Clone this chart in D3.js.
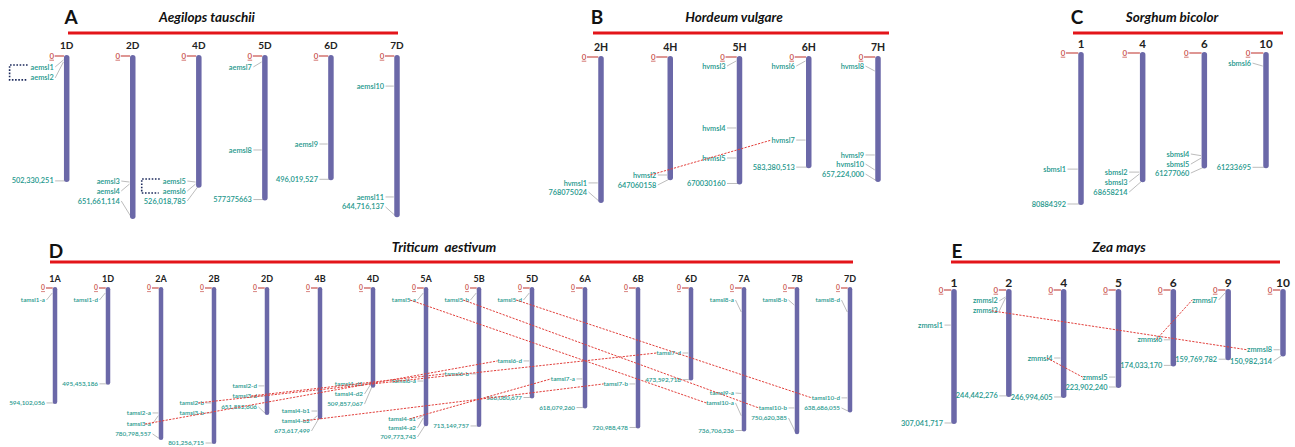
<!DOCTYPE html>
<html><head><meta charset="utf-8">
<script src="https://cdn.jsdelivr.net/npm/d3@7"></script>
<style>
body{margin:0;background:#fff}
svg{display:block}
text{font-family:Lato,"Liberation Sans",Arial,sans-serif}
</style>
</head><body>
<svg id="chart" width="1295" height="447"></svg>
<script>
// ---------------- DATA ----------------
// Panel A: Aegilops tauschii
const aChroms = ["1D","2D","4D","5D","6D","7D"];
const aLengths = [502330251, 651661114, 526018785, 577375663, 496019527, 644716137];
const aLengthLabels = ["502,330,251","651,661,114","526,018,785","577375663","496,019,527","644,716,137"];
const aLengthLabelPos = [502.33, 583, 583, 577.38, 496.02, 607];
// [gene, chromosome, position (Mb), label position (Mb)]
const aGenes = [
  ["aemsl1","1D",16,44],["aemsl2","1D",24,88],
  ["aemsl3","2D",507,503],["aemsl4","2D",515,543],
  ["aemsl5","4D",507,503],["aemsl6","4D",515,543],
  ["aemsl7","5D",24,44],["aemsl8","5D",378,378],
  ["aemsl9","6D",354,354],
  ["aemsl10","7D",121,121],["aemsl11","7D",567,567]
];
const aGroups = [["aemsl1","aemsl2"],["aemsl5","aemsl6"]];
const aLinks = [];

// Panel B: Hordeum vulgare
const bChroms = ["2H","4H","5H","6H","7H"];
const bLengths = [768075024, 647060158, 670030160, 583380513, 657224000];
const bLengthLabels = ["768075024","647060158","670030160","583,380,513","657,224,000"];
const bLengthLabelPos = [715, 678, 670.03, 583.38, 620];
const bGenes = [
  ["hvmsl1","2H",667,667],
  ["hvmsl2","4H",625,625],
  ["hvmsl3","5H",21,48],["hvmsl4","5H",376,376],["hvmsl5","5H",535,535],
  ["hvmsl6","6H",21,48],["hvmsl7","6H",440,440],
  ["hvmsl8","7H",74,48],["hvmsl9","7H",519,519],["hvmsl10","7H",598,567]
];
const bGroups = [];
const bLinks = [["hvmsl2","hvmsl7"]];

// Panel C: Sorghum bicolor
const cChroms = ["1","4","6","10"];
const cLengths = [80884392, 68658214, 61277060, 61233695];
const cLengthLabels = ["80884392","68658214","61277060","61233695"];
const cLengthLabelPos = [80.88, 74.5, 64.3, 61.23];
const cGenes = [
  ["sbmsl1","1",62.2,62.2],
  ["sbmsl2","4",63.8,63.8],["sbmsl3","4",64.8,69.1],
  ["sbmsl4","6",55,54.1],["sbmsl5","6",56.3,59.5],
  ["sbmsl6","10",7,5.4]
];
const cGroups = [];
const cLinks = [];

// Panel D: Triticum aestivum
const dChroms = ["1A","1D","2A","2B","2D","4B","4D","5A","5B","5D","6A","6B","6D","7A","7B","7D"];
const dLengths = [594102056, 495453186, 780798557, 801256715, 651852606, 673617499, 509857067, 709773743,
                  713149757, 566080677, 618079260, 720988478, 473592718, 736706236, 750620385, 638686055];
const dLengthLabels = ["594,102,056","495,453,186","780,798,557","801,256,715","651,852,606","673,617,499",
                       "509,857,067","709,773,743","713,149,757","566,080,677","618,079,260","720,988,478",
                       "473,592,718","736,706,236","750,620,385","638,686,055"];
const dLengthLabelPos = [594.1, 495.45, 754, 801.26, 615, 739, 600, 770, 713.15, 566.08, 618.08, 720.99, 473.59, 736.71, 672, 620];
const dGenes = [
  ["tamsl1-a","1A",26,62],
  ["tamsl1-d","1D",26,62],
  ["tamsl2-a","2A",646,646],["tamsl3-a","2A",660,703],
  ["tamsl2-b","2B",594,594],["tamsl3-b","2B",646,646],
  ["tamsl2-d","2D",506,506],["tamsl3-d","2D",558,558],
  ["tamsl4-b1","4B",636,636],["tamsl4-b2","4B",660,687],
  ["tamsl4-d1","4D",490,496],["tamsl4-d2","4D",501,548],
  ["tamsl5-a","5A",26,62],["tamsl6-a","5A",481,481],["tamsl4-a1","5A",660,677],["tamsl4-a2","5A",672,723],
  ["tamsl5-b","5B",26,62],["tamsl6-b","5B",444,444],
  ["tamsl5-d","5D",26,62],["tamsl6-d","5D",377,377],
  ["tamsl7-a","6A",470,470],
  ["tamsl7-b","6B",496,496],
  ["tamsl7-d","6D",336,336],
  ["tamsl8-a","7A",124,62],["tamsl9-a","7A",545,543],["tamsl10-a","7A",660,594],
  ["tamsl8-b","7B",88,62],["tamsl10-b","7B",620,620],
  ["tamsl8-d","7D",124,62],["tamsl10-d","7D",568,568]
];
const dGroups = [];
const dLinks = [["tamsl3-a","tamsl6-d"],["tamsl2-b","tamsl7-d"],["tamsl3-d","tamsl6-b"],["tamsl4-b2","tamsl7-b"],
                ["tamsl4-a1","tamsl7-a"],["tamsl5-a","tamsl10-a"],["tamsl5-b","tamsl10-b"],["tamsl5-d","tamsl10-d"]];

// Panel E: Zea mays
const eChroms = ["1","2","4","5","6","9","10"];
const eLengths = [307041717, 244442276, 246994605, 223902240, 174033170, 159769782, 150982314];
const eLengthLabels = ["307,041,717","244,442,276","246,994,605","223,902,240","174,033,170","159,769,782","150,982,314"];
const eLengthLabelPos = [307.04, 244.44, 246.99, 223.9, 174.03, 159.77, 164];
const eGenes = [
  ["zmmsl1","1",81,81],
  ["zmmsl2","2",16,25],["zmmsl3","2",18,48],
  ["zmmsl4","4",157,157],
  ["zmmsl5","5",201,201],
  ["zmmsl6","6",115,115],
  ["zmmsl7","9",7,23],
  ["zmmsl8","10",138,138]
];
const eGroups = [];
const eLinks = [["zmmsl3","zmmsl8"],["zmmsl7","zmmsl6"],["zmmsl4","zmmsl5"]];

// ---------------- STYLE / LAYOUT ----------------
const TEAL = "#23978c", GREY = "#ababab", CHROM = "#6b68a8", RED = "#e3151a", ZERO = "#c8504a", LINK = "#e2403c";
const svg = d3.select("#chart");

function drawPanel(P, L) {
  const g = svg.append("g");
  const x = d3.scalePoint().domain(P.chroms).range(L.xRange);
  const y = d3.scaleLinear().domain([0, d3.max(P.lengths) / 1e6]).range(L.yRange);
  const top = y(0);

  // header
  g.append("text").attr("x", L.letterX).attr("y", L.letterY).attr("text-anchor", "middle")
    .attr("font-size", 19).attr("font-weight", "bold").attr("fill", "#111").text(P.letter);
  g.append("text").attr("x", L.titleX).attr("y", L.titleY).attr("text-anchor", "middle")
    .attr("font-size", 13.5).attr("font-weight", "bold").attr("font-style", "italic")
    .attr("fill", "#111").style("white-space", "pre").text(P.title);
  g.append("line").attr("x1", L.bar[0]).attr("x2", L.bar[1]).attr("y1", L.barY).attr("y2", L.barY)
    .attr("stroke", RED).attr("stroke-width", 3);

  const conn = g.append("g").attr("stroke", GREY).attr("stroke-width", 0.8).attr("fill", "none");
  const chromG = g.append("g");
  const textG = g.append("g").attr("font-weight", 600);
  const linkG = g.append("g");

  P.chroms.forEach((c, i) => {
    const cx = x(c), bot = y(P.lengths[i] / 1e6);
    chromG.append("rect").attr("x", cx - L.w / 2).attr("y", top - 1).attr("width", L.w)
      .attr("height", bot - top + 2).attr("rx", L.w / 2).attr("fill", CHROM);
    textG.append("text").attr("x", cx).attr("y", top - L.nameGap).attr("text-anchor", "middle")
      .attr("font-weight", "bold").attr("font-size", L.nameSize).attr("fill", "#222").text(c);
    textG.append("text").attr("x", cx + L.zeroDx).attr("y", top).attr("dy", "0.35em")
      .attr("text-anchor", "middle").attr("font-size", L.labelSize + 0.5).attr("fill", ZERO)
      .attr("text-decoration", "underline").text("0");
    g.append("line").attr("x1", cx + L.zeroDx + 3).attr("x2", cx - L.w / 2).attr("y1", top).attr("y2", top)
      .attr("stroke", ZERO).attr("stroke-width", 1.2);
    const ly = y(P.lengthLabelPos[i]);
    textG.append("text").attr("x", cx - L.gap).attr("y", ly).attr("dy", "0.35em").attr("text-anchor", "end")
      .attr("font-size", L.labelSize).attr("fill", TEAL).text(P.lengthLabels[i]);
    conn.append("line").attr("x1", cx - L.gap + 1.5).attr("y1", ly).attr("x2", cx - 1).attr("y2", bot);
  });

  const nodes = {};
  P.genes.forEach(([name, c, pos, lab]) => {
    const cx = x(c), ly = y(lab), py = y(pos);
    const t = textG.append("text").attr("x", cx - L.gap).attr("y", ly).attr("dy", "0.35em")
      .attr("text-anchor", "end").attr("font-size", L.labelSize).attr("fill", TEAL).text(name);
    nodes[name] = { node: t.node(), y: ly };
    conn.append("line").attr("x1", cx - L.gap + 1.5).attr("y1", ly).attr("x2", cx - L.w / 2 - 0.5).attr("y2", py);
  });

  P.groups.forEach(([a, b]) => {
    const ba = nodes[a].node.getBBox(), bb = nodes[b].node.getBBox();
    const left = Math.min(ba.x, bb.x) - 21;
    g.append("path")
      .attr("d", `M${ba.x - 3},${nodes[a].y - 2}H${left}V${nodes[b].y + 2}H${bb.x - 4}`)
      .attr("fill", "none").attr("stroke", "#1c2a5c").attr("stroke-width", 1.6)
      .attr("stroke-dasharray", "1.6,1.6");
  });

  P.links.forEach(([a, b]) => {
    let A = nodes[a], B = nodes[b];
    let ba = A.node.getBBox(), bb = B.node.getBBox();
    if (bb.x < ba.x) { [A, B] = [B, A]; [ba, bb] = [bb, ba]; }
    linkG.append("line").attr("x1", ba.x + ba.width * 0.75).attr("y1", A.y)
      .attr("x2", bb.x).attr("y2", B.y)
      .attr("stroke", LINK).attr("stroke-width", 1).attr("stroke-dasharray", "2.2,1.3");
  });
}

drawPanel({letter:"A", title:"Aegilops tauschii", chroms:aChroms, lengths:aLengths, lengthLabels:aLengthLabels,
  lengthLabelPos:aLengthLabelPos, genes:aGenes, groups:aGroups, links:aLinks},
  {letterX:71, letterY:24, titleX:207, titleY:22, bar:[68,398], barY:33, xRange:[66.7,397], yRange:[56,218],
   w:5.5, nameGap:7, nameSize:10, labelSize:7.4, gap:13, zeroDx:-15});

drawPanel({letter:"B", title:"Hordeum vulgare", chroms:bChroms, lengths:bLengths, lengthLabels:bLengthLabels,
  lengthLabelPos:bLengthLabelPos, genes:bGenes, groups:bGroups, links:bLinks},
  {letterX:597, letterY:24, titleX:734, titleY:22, bar:[593,889], barY:33, xRange:[601,878], yRange:[57,202],
   w:5.5, nameGap:6, nameSize:10.5, labelSize:7.4, gap:14, zeroDx:-17});

drawPanel({letter:"C", title:"Sorghum bicolor", chroms:cChroms, lengths:cLengths, lengthLabels:cLengthLabels,
  lengthLabelPos:cLengthLabelPos, genes:cGenes, groups:cGroups, links:cLinks},
  {letterX:1077, letterY:24, titleX:1172, titleY:22, bar:[1073,1283], barY:33, xRange:[1081,1266], yRange:[53,204],
   w:5.5, nameGap:5, nameSize:11.5, labelSize:7.4, gap:15, zeroDx:-18});

drawPanel({letter:"D", title:"Triticum  aestivum", chroms:dChroms, lengths:dLengths, lengthLabels:dLengthLabels,
  lengthLabelPos:dLengthLabelPos, genes:dGenes, groups:dGroups, links:dLinks},
  {letterX:56, letterY:258, titleX:444, titleY:252, bar:[50,853], barY:262, xRange:[55,850], yRange:[288,443],
   w:4.5, nameGap:6, nameSize:9, labelSize:6.3, gap:10, zeroDx:-12});

drawPanel({letter:"E", title:"Zea mays", chroms:eChroms, lengths:eLengths, lengthLabels:eLengthLabels,
  lengthLabelPos:eLengthLabelPos, genes:eGenes, groups:eGroups, links:eLinks},
  {letterX:957, letterY:258, titleX:1119, titleY:252, bar:[951,1280], barY:262, xRange:[954,1283], yRange:[290,423],
   w:5.5, nameGap:3, nameSize:12, labelSize:7.4, gap:11, zeroDx:-13});
</script>
</body></html>
